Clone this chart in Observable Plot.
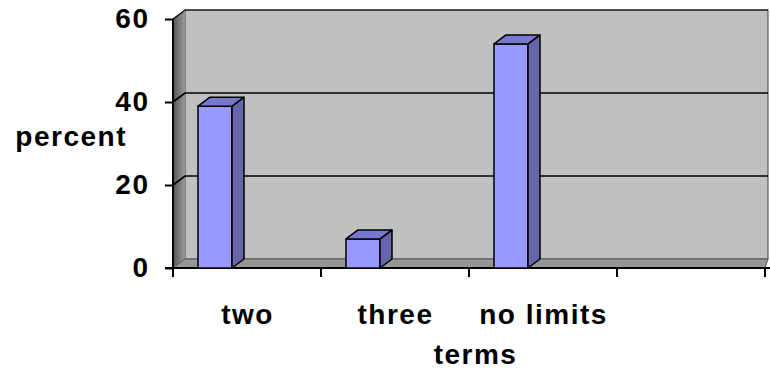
<!DOCTYPE html>
<html><head><meta charset="utf-8">
<script src="https://cdn.jsdelivr.net/npm/d3@7"></script>
<script src="https://cdn.jsdelivr.net/npm/@observablehq/plot@0.6"></script>
<style>body{margin:0;background:#fff}</style>
</head><body><div id="chart"></div>
<script>
const categories = ["two", "three", "no limits", ""];
const values = [39, 7, 54];
const yTicks = [0, 20, 40, 60];
const yLabel = "percent";
const xLabel = "terms";

const data = values.map((v, i) => ({term: categories[i], percent: v}));

const DX = 12, DY = 9; // depth offset of the 3D view (px)
const INL = 25, INR = 89; // bar insets within its category band

function walls(index, {x, y}) {
  const g = d3.create("svg:g");
  const x0 = x(categories[0]);
  const x1 = x(categories[categories.length - 1]) + x.bandwidth();
  const yb = y(yTicks[0]), yt = y(yTicks[yTicks.length - 1]);
  const grad = g.append("defs").append("linearGradient").attr("id", "lw")
    .attr("x1", "0").attr("x2", "1").attr("y1", "0").attr("y2", "0");
  grad.append("stop").attr("offset", "0").attr("stop-color", "#555555");
  grad.append("stop").attr("offset", "1").attr("stop-color", "#9a9a9a");
  // back wall
  g.append("rect").attr("x", x0 + DX).attr("y", yt - DY)
    .attr("width", x1 + 3 - x0 - DX).attr("height", yb - yt)
    .attr("fill", "#c0c0c0").attr("stroke", "#404040").attr("stroke-width", 1);
  // left wall
  g.append("path").attr("d", `M${x0},${yb}L${x0},${yt}L${x0 + DX},${yt - DY}L${x0 + DX},${yb - DY}Z`)
    .attr("fill", "url(#lw)");
  // floor
  g.append("path").attr("d", `M${x0},${yb}L${x1},${yb}L${x1 + 3},${yb - DY}L${x0 + DX},${yb - DY}Z`)
    .attr("fill", "#969696").attr("stroke", "#5a5a5a").attr("stroke-width", 1);
  // gridlines
  for (const t of yTicks) {
    const yy = y(t);
    if (t > 0) {
      g.append("path").attr("d", `M${x0},${yy}L${x0 + DX},${yy - DY}L${x1 + 3},${yy - DY}`)
        .attr("fill", "none").attr("stroke", "#000").attr("stroke-width", t === 60 ? 1.2 : 1.6);
    }
  }
  // front axis lines
  g.append("line").attr("x1", x0).attr("x2", x0).attr("y1", yt).attr("y2", yb)
    .attr("stroke", "#000").attr("stroke-width", 2);
  g.append("line").attr("x1", x0 - 8).attr("x2", x1 + 5).attr("y1", yb).attr("y2", yb)
    .attr("stroke", "#000").attr("stroke-width", 2);
  // category boundary ticks
  for (let i = 0; i <= categories.length; i++) {
    const xx = i < categories.length ? x(categories[i]) : x1;
    g.append("line").attr("x1", xx).attr("x2", xx).attr("y1", yb).attr("y2", yb + 9)
      .attr("stroke", "#000").attr("stroke-width", 2);
  }
  return g.node();
}

function bars3d(index, {x, y}) {
  const g = d3.create("svg:g").attr("stroke", "#000").attr("stroke-width", 1.5).attr("stroke-linejoin", "round");
  for (const d of data) {
    const l = x(d.term) + INL, r = x(d.term) + x.bandwidth() - INR;
    const t = y(d.percent), b = y(0);
    g.append("path").attr("d", `M${r},${b}L${r + DX},${b - DY}L${r + DX},${t - DY}L${r},${t}Z`)
      .attr("fill", "#6666aa");
    g.append("path").attr("d", `M${l},${t}L${l + DX},${t - DY}L${r + DX},${t - DY}L${r},${t}Z`)
      .attr("fill", "#7777cc");
  }
  return g.node();
}

const font = {fontSize: 28, fontWeight: "bold"};

const chart = Plot.plot({
  width: 770, height: 372,
  marginLeft: 173, marginRight: 5, marginTop: 19, marginBottom: 104,
  style: {fontFamily: "'Liberation Sans', Arial, sans-serif", fontWeight: "bold", fontSize: "28px", letterSpacing: "1.5px", color: "#000", background: "#fff", overflow: "visible"},
  x: {domain: categories, padding: 0},
  y: {domain: [yTicks[0], yTicks[yTicks.length - 1]]},
  marks: [
    walls,
    Plot.axisY(yTicks, {tickSize: 8, tickPadding: 16, strokeWidth: 2, label: null, ...font}),
    Plot.axisX({tickSize: 0, tickPadding: 36, label: null, ...font}),
    Plot.barY(data, {x: "term", y: "percent", fill: "#9999ff", stroke: "#000", strokeWidth: 1.5, insetLeft: INL, insetRight: INR}),
    bars3d,
    Plot.text([yLabel], {text: d => d, frameAnchor: "left", textAnchor: "end", dx: -46.5, dy: -6.5, ...font}),
    Plot.text([xLabel], {text: d => d, frameAnchor: "bottom", lineAnchor: "top", dx: 6, dy: 76, ...font})
  ]
});
document.getElementById("chart").appendChild(chart);
</script>
</body></html>
